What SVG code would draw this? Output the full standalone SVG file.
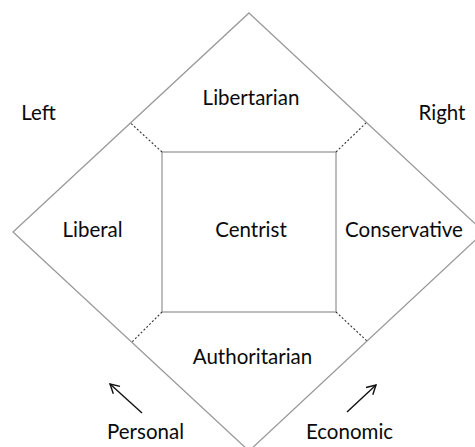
<svg xmlns="http://www.w3.org/2000/svg" width="475" height="447" viewBox="0 0 475 447">
  <style>
    .edge { fill: none; stroke: #9a9a9a; stroke-width: 1.3; }
    .dot { fill: none; stroke: #333333; stroke-width: 1.1; stroke-dasharray: 2 2; }
    .arr { fill: none; stroke: #111111; stroke-width: 1.4; }
    text { font-family: Lato, "Open Sans", sans-serif; font-size: 20.5px; fill: #0a0a0a; text-anchor: middle; }
  </style>
  <defs>
    <marker id="open" viewBox="0 0 12 12" refX="10" refY="6" markerWidth="12" markerHeight="12" markerUnits="userSpaceOnUse" orient="auto">
      <path d="M1,1 L10,6 L1,11" fill="none" stroke="#111111" stroke-width="1.4"/>
    </marker>
  </defs>
  <rect width="475" height="447" fill="#ffffff"/>
  <g id="chart-frame">
    <polygon class="edge" points="249,13 484,232 249,451 13,232"/>
  </g>
  <g id="centrist">
    <rect class="edge" x="162" y="152" width="174" height="160"/>
    <text x="251" y="237">Centrist</text>
  </g>
  <g id="libertarian">
    <text x="251" y="105">Libertarian</text>
  </g>
  <g id="liberal">
    <text x="92.5" y="237">Liberal</text>
  </g>
  <g id="conservative">
    <text x="404" y="237">Conservative</text>
  </g>
  <g id="authoritarian">
    <text x="252.5" y="364">Authoritarian</text>
  </g>
  <g id="left-label">
    <text x="38.5" y="120">Left</text>
  </g>
  <g id="right-label">
    <text x="442" y="120">Right</text>
  </g>
  <g id="personal-label">
    <text x="145.5" y="439">Personal</text>
  </g>
  <g id="economic-label">
    <text x="349.5" y="439">Economic</text>
  </g>
  <g id="connectors">
    <line class="dot" x1="162" y1="152" x2="130.5" y2="123"/>
    <line class="dot" x1="336" y1="152" x2="366" y2="123"/>
    <line class="dot" x1="162" y1="312" x2="132" y2="342"/>
    <line class="dot" x1="336" y1="312" x2="367" y2="341"/>
    <line class="arr" x1="142" y1="413" x2="110" y2="384" marker-end="url(#open)"/>
    <line class="arr" x1="347" y1="412" x2="376" y2="385" marker-end="url(#open)"/>
  </g>
</svg>
